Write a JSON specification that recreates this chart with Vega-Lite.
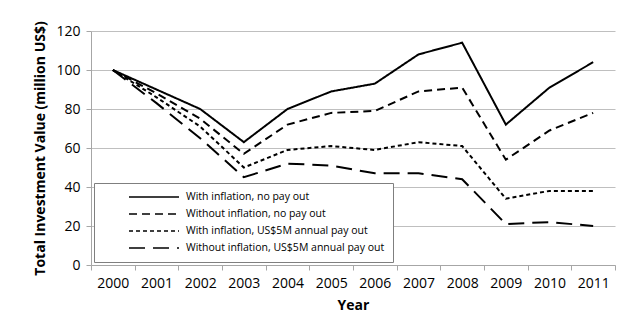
{
  "$schema": "https://vega.github.io/schema/vega-lite/v6.json",
  "width": 629,
  "height": 313,
  "autosize": {"type": "fit", "contains": "padding"},
  "padding": {"left": 33, "top": 24, "right": 13, "bottom": 1},
  "background": "white",
  "config": {
    "font": "Open Sans",
    "view": {"stroke": null},
    "axis": {"labelColor": "black", "titleColor": "black", "labelFont": "Open Sans", "titleFont": "Open Sans"}
  },
  "data": {
    "values": [
      {"year": "2000", "series": "With inflation, no pay out", "value": 100},
      {"year": "2001", "series": "With inflation, no pay out", "value": 90},
      {"year": "2002", "series": "With inflation, no pay out", "value": 80},
      {"year": "2003", "series": "With inflation, no pay out", "value": 63},
      {"year": "2004", "series": "With inflation, no pay out", "value": 80},
      {"year": "2005", "series": "With inflation, no pay out", "value": 89},
      {"year": "2006", "series": "With inflation, no pay out", "value": 93},
      {"year": "2007", "series": "With inflation, no pay out", "value": 108},
      {"year": "2008", "series": "With inflation, no pay out", "value": 114},
      {"year": "2009", "series": "With inflation, no pay out", "value": 72},
      {"year": "2010", "series": "With inflation, no pay out", "value": 91},
      {"year": "2011", "series": "With inflation, no pay out", "value": 104},
      {"year": "2000", "series": "Without inflation, no pay out", "value": 100},
      {"year": "2001", "series": "Without inflation, no pay out", "value": 88},
      {"year": "2002", "series": "Without inflation, no pay out", "value": 75},
      {"year": "2003", "series": "Without inflation, no pay out", "value": 57},
      {"year": "2004", "series": "Without inflation, no pay out", "value": 72},
      {"year": "2005", "series": "Without inflation, no pay out", "value": 78},
      {"year": "2006", "series": "Without inflation, no pay out", "value": 79},
      {"year": "2007", "series": "Without inflation, no pay out", "value": 89},
      {"year": "2008", "series": "Without inflation, no pay out", "value": 91},
      {"year": "2009", "series": "Without inflation, no pay out", "value": 54},
      {"year": "2010", "series": "Without inflation, no pay out", "value": 69},
      {"year": "2011", "series": "Without inflation, no pay out", "value": 78},
      {"year": "2000", "series": "With inflation, US$5M annual pay out", "value": 100},
      {"year": "2001", "series": "With inflation, US$5M annual pay out", "value": 86},
      {"year": "2002", "series": "With inflation, US$5M annual pay out", "value": 71},
      {"year": "2003", "series": "With inflation, US$5M annual pay out", "value": 50},
      {"year": "2004", "series": "With inflation, US$5M annual pay out", "value": 59},
      {"year": "2005", "series": "With inflation, US$5M annual pay out", "value": 61},
      {"year": "2006", "series": "With inflation, US$5M annual pay out", "value": 59},
      {"year": "2007", "series": "With inflation, US$5M annual pay out", "value": 63},
      {"year": "2008", "series": "With inflation, US$5M annual pay out", "value": 61},
      {"year": "2009", "series": "With inflation, US$5M annual pay out", "value": 34},
      {"year": "2010", "series": "With inflation, US$5M annual pay out", "value": 38},
      {"year": "2011", "series": "With inflation, US$5M annual pay out", "value": 38},
      {"year": "2000", "series": "Without  inflation, US$5M annual pay out", "value": 100},
      {"year": "2001", "series": "Without  inflation, US$5M annual pay out", "value": 83},
      {"year": "2002", "series": "Without  inflation, US$5M annual pay out", "value": 65},
      {"year": "2003", "series": "Without  inflation, US$5M annual pay out", "value": 45},
      {"year": "2004", "series": "Without  inflation, US$5M annual pay out", "value": 52},
      {"year": "2005", "series": "Without  inflation, US$5M annual pay out", "value": 51},
      {"year": "2006", "series": "Without  inflation, US$5M annual pay out", "value": 47},
      {"year": "2007", "series": "Without  inflation, US$5M annual pay out", "value": 47},
      {"year": "2008", "series": "Without  inflation, US$5M annual pay out", "value": 44},
      {"year": "2009", "series": "Without  inflation, US$5M annual pay out", "value": 21},
      {"year": "2010", "series": "Without  inflation, US$5M annual pay out", "value": 22},
      {"year": "2011", "series": "Without  inflation, US$5M annual pay out", "value": 20}
    ]
  },
  "mark": {"type": "line", "color": "black", "strokeWidth": 2},
  "encoding": {
    "x": {
      "field": "year", "type": "ordinal",
      "scale": {"type": "band", "paddingInner": 0, "paddingOuter": 0},
      "axis": {
        "title": "Year", "titleFontSize": 14, "titleFontWeight": "bold", "titlePadding": 8,
        "labelAngle": 0, "labelFontSize": 14, "labelPadding": 6,
        "tickBand": "extent", "domainColor": "#a6a6a6", "tickColor": "#a6a6a6", "tickSize": 5, "grid": false
      }
    },
    "y": {
      "field": "value", "type": "quantitative",
      "scale": {"domain": [0, 120]},
      "axis": {
        "title": "Total Investment Value (million US$)", "titleFontSize": 14, "titleFontWeight": "bold", "titlePadding": 8,
        "values": [0, 20, 40, 60, 80, 100, 120], "labelFontSize": 14, "labelPadding": 6,
        "gridColor": "#bfbfbf", "domainColor": "#a6a6a6", "tickColor": "#a6a6a6", "tickSize": 5
      }
    },
    "strokeDash": {
      "field": "series", "type": "nominal",
      "scale": {
        "domain": ["With inflation, no pay out", "Without inflation, no pay out", "With inflation, US$5M annual pay out", "Without  inflation, US$5M annual pay out"],
        "range": [[1, 0], [8, 5], [4, 3], [16, 8]]
      },
      "legend": {
        "title": null, "orient": "bottom-left", "offset": 3,
        "fillColor": "white", "strokeColor": "#7f7f7f", "padding": 6,
        "labelFontSize": 10.5, "labelFont": "Open Sans", "labelColor": "black",
        "symbolType": "stroke", "symbolStrokeColor": "black", "symbolStrokeWidth": 1.5, "symbolSize": 2500,
        "clipHeight": 16, "rowPadding": 1, "labelLimit": 300, "labelOffset": 6, "symbolOffset": 28
      }
    }
  }
}
